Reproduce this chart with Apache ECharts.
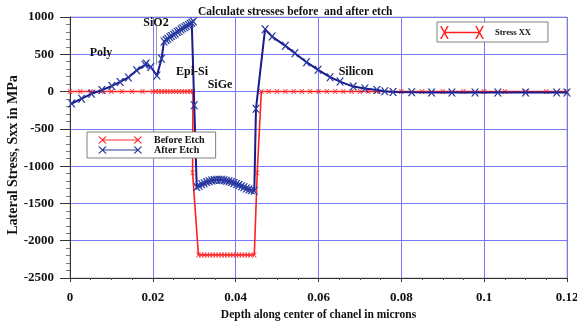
<!DOCTYPE html>
<html>
<head>
<meta charset="utf-8">
<script src="https://cdn.jsdelivr.net/npm/echarts@6/dist/echarts.min.js"></script>
<style>
html,body{margin:0;padding:0;background:#fff;}
#c{width:577px;height:326px;}
</style>
</head>
<body>
<div id="c"></div>
<script>
// ---- data ----
var titleText = 'Calculate stresses before  and after etch';
var xName = 'Depth along center of chanel in microns';
var yName = 'Lateral Stress, Sxx in MPa';
var xTickLabels = ['0', '0.02', '0.04', '0.06', '0.08', '0.1', '0.12'];
var yTickLabels = ['-2500', '-2000', '-1500', '-1000', '-500', '0', '500', '1000'];

var beforeX = [0, 0.0025, 0.005, 0.0075, 0.01, 0.0125, 0.015, 0.0175, 0.0200, 0.0207, 0.0214, 0.0221, 0.0228,
  0.0235, 0.0242, 0.0249, 0.0256, 0.0263, 0.0270, 0.0277, 0.0284, 0.0291, 0.0297, 0.0296, 0.0310,
  0.0317, 0.0324, 0.0331, 0.0338, 0.0345, 0.0352, 0.0359, 0.0366, 0.0373, 0.0380, 0.0387, 0.0394,
  0.0401, 0.0408, 0.0415, 0.0422, 0.0429, 0.0436, 0.0445, 0.0452, 0.0462, 0.0480, 0.0500, 0.0520,
  0.0540, 0.0560, 0.0580, 0.0600, 0.0620, 0.0640, 0.0660, 0.0680, 0.0700, 0.0720, 0.0740, 0.0800,
  0.0850, 0.0900, 0.0950, 0.1000, 0.1050, 0.1100, 0.1150, 0.1200];
var beforeY = [0, 0, 0, 0, 0, 0, 0, 0, 0, 0, 0, 0, 0,
  0, 0, 0, 0, 0, 0, 0, 0, 0, 0, -1090, -2190,
  -2190, -2190, -2190, -2190, -2190, -2190, -2190, -2190, -2190, -2190, -2190, -2190,
  -2190, -2190, -2190, -2190, -2190, -2190, -2190, -1090, 0, 0, 0, 0,
  0, 0, 0, 0, 0, 0, 0, 0, 0, 0, 0, 0,
  0, 0, 0, 0, 0, 0, 0, 0];

var afterX = [0.0004, 0.0028, 0.0052, 0.0077, 0.0101, 0.0121, 0.0141, 0.0161, 0.0181, 0.0184, 0.0195, 0.0210,
  0.0221, 0.0227, 0.0232, 0.0236, 0.0241, 0.0245, 0.0250, 0.0254, 0.0259, 0.0263, 0.0268, 0.0272,
  0.0277, 0.0281, 0.0286, 0.0290, 0.0294, 0.0298, 0.0300, 0.0306,
  0.0312, 0.0318, 0.0324, 0.0330, 0.0336, 0.0342, 0.0348, 0.0354, 0.0360, 0.0366, 0.0372, 0.0378,
  0.0384, 0.0390, 0.0396, 0.0402, 0.0408, 0.0414, 0.0420, 0.0426, 0.0432, 0.0438, 0.0445,
  0.0449, 0.0471, 0.0488, 0.0520, 0.0543, 0.0571, 0.0599, 0.0628, 0.0652, 0.0684, 0.0712, 0.0741,
  0.0760, 0.0780, 0.0825, 0.0873, 0.0922, 0.0978, 0.1033, 0.1100, 0.1175, 0.1200];
var afterY = [-160, -95, -30, 20, 75, 130, 190, 285, 360, 378, 330, 215,
  440, 670, 690, 708, 728, 744, 763, 779, 798, 813, 832, 848,
  864, 879, 894, 909, 924, 940, -185, -1280,
  -1262, -1244, -1228, -1213, -1201, -1192, -1186, -1183, -1182, -1184, -1188, -1195,
  -1204, -1214, -1226, -1239, -1253, -1268, -1284, -1299, -1312, -1323, -1331,
  -232, 836, 737, 613, 515, 394, 291, 193, 134, 67, 40, 20,
  5, -5, -10, -12, -12, -12, -12, -12, -12, -12];

var sio2LineX = [0.0209, 0.0209];
var sio2LineY = [890, 360];

var annotations = [
  {text: 'Poly', x: 101, y: 53},
  {text: 'SiO2', x: 156, y: 23},
  {text: 'Epi-Si', x: 192, y: 72},
  {text: 'SiGe', x: 220, y: 85},
  {text: 'Silicon', x: 356, y: 72}
];

function zip(xs, ys) { return xs.map(function (v, i) { return [v, ys[i]]; }); }

var FONT = '"Liberation Serif", "DejaVu Serif", serif';
var xPath = 'path://M0,0 L2,0 L10,10 L8,10 Z M8,0 L10,0 L2,10 L0,10 Z';
var iconBase = 'M4,5.2 L36,5.2 L36,6.8 L4,6.8 Z M0,0 L1.5,0 L8,12 L6.5,12 Z M6.5,0 L8,0 L1.5,12 L0,12 Z M32,0 L33.5,0 L40,12 L38.5,12 Z M38.5,0 L40,0 L33.5,12 L32,12 Z';
var legendIcon1 = 'path://' + iconBase + ' M46,6 L46,6.001 L45.999,6 Z';
var legendIcon2 = 'path://' + iconBase + ' M45.5,6 L45.5,6.001 L45.499,6 Z';

var chart = echarts.init(document.getElementById('c'), null, {renderer: 'canvas'});
var option = {
  animation: false,
  backgroundColor: '#ffffff',
  title: {
    text: titleText, left: 193, top: 1,
    textStyle: {fontFamily: FONT, fontWeight: 'bold', fontSize: 11.5, color: '#111'}
  },
  grid: {left: 70, right: 10, top: 17, bottom: 48, containLabel: false, outerBoundsMode: 'none',
    show: true, borderColor: '#b0b0b0', borderWidth: 1},
  legend: [
    {
      data: ['Before Etch', 'After Etch'],
      orient: 'vertical', left: 87, top: 132,
      padding: [3, 11, 3, 11], itemGap: 0,
      itemWidth: 51, itemHeight: 7, symbolKeepAspect: false,
      icon: legendIcon1,
      backgroundColor: '#fff', borderColor: '#808080', borderWidth: 1,
      textStyle: {fontFamily: FONT, fontWeight: 'bold', fontSize: 10, color: '#111'}
    },
    {
      data: ['Stress XX'],
      left: 437, top: 22,
      padding: [4, 17, 3, 3],
      itemWidth: 50, itemHeight: 13, symbolKeepAspect: false,
      icon: legendIcon2,
      backgroundColor: '#fff', borderColor: '#808080', borderWidth: 1,
      textStyle: {fontFamily: FONT, fontWeight: 'bold', fontSize: 8.5, color: '#111'}
    }
  ],
  xAxis: {
    type: 'value', min: 0, max: 0.12, interval: 0.02,
    name: xName, nameLocation: 'middle', nameGap: 29,
    nameTextStyle: {fontFamily: FONT, fontWeight: 'bold', fontSize: 11.5, color: '#111'},
    axisLine: {onZero: false, lineStyle: {color: '#333', width: 1}},
    axisTick: {show: true, inside: false, length: 4, lineStyle: {color: '#333'}},
    minorTick: {show: true, splitNumber: 4, length: 2, lineStyle: {color: '#555'}},
    axisLabel: {
      margin: 13, fontFamily: FONT, fontWeight: 'bold', fontSize: 13, color: '#111',
      formatter: function (v, i) { return xTickLabels[i]; }
    },
    splitLine: {show: true, lineStyle: {color: '#7878ff', width: 1}}
  },
  yAxis: {
    type: 'value', min: -2500, max: 1000, interval: 500,
    axisLine: {show: true, onZero: false, lineStyle: {color: '#333', width: 1}},
    axisTick: {show: true, inside: false, length: 10, lineStyle: {color: '#333'}},
    minorTick: {show: true, splitNumber: 5, length: 4, lineStyle: {color: '#777'}},
    axisLabel: {
      margin: 16, fontFamily: FONT, fontWeight: 'bold', fontSize: 13, color: '#111',
      formatter: function (v, i) { return yTickLabels[i]; }
    },
    splitLine: {show: true, lineStyle: {color: '#7878ff', width: 1}}
  },
  series: [
    {
      name: 'SiO2 boundary', type: 'line', data: zip(sio2LineX, sio2LineY),
      symbol: 'none', lineStyle: {color: '#999', width: 1}, silent: true, z: 1
    },
    {
      name: 'Before Etch', type: 'line', data: zip(beforeX, beforeY),
      color: '#ff2020',
      symbol: xPath, symbolSize: 5, showAllSymbol: true,
      lineStyle: {color: '#ff2020', width: 1.6},
      itemStyle: {color: '#ff3030'}, z: 2
    },
    {
      name: 'After Etch', type: 'line', data: zip(afterX, afterY),
      color: '#1a1a8a',
      symbol: xPath, symbolSize: 8, showAllSymbol: true,
      lineStyle: {color: '#1a1a8a', width: 2},
      itemStyle: {color: '#2a3aa0'}, z: 3
    },
    {
      name: 'Stress XX', type: 'line', data: [], color: '#ff2020'
    }
  ],
  graphic: annotations.map(function (a) {
    return {
      type: 'text', x: a.x, y: a.y, z: 100,
      style: {text: a.text, fill: '#111', font: 'bold 12px ' + FONT, textAlign: 'center', textVerticalAlign: 'middle'}
    };
  }).concat([{
    type: 'text', x: 13, y: 155, rotation: Math.PI / 2, z: 100,
    style: {text: yName, fill: '#111', font: 'bold 14px ' + FONT, textAlign: 'center', textVerticalAlign: 'middle'}
  }])
};
chart.setOption(option);
</script>
</body>
</html>
